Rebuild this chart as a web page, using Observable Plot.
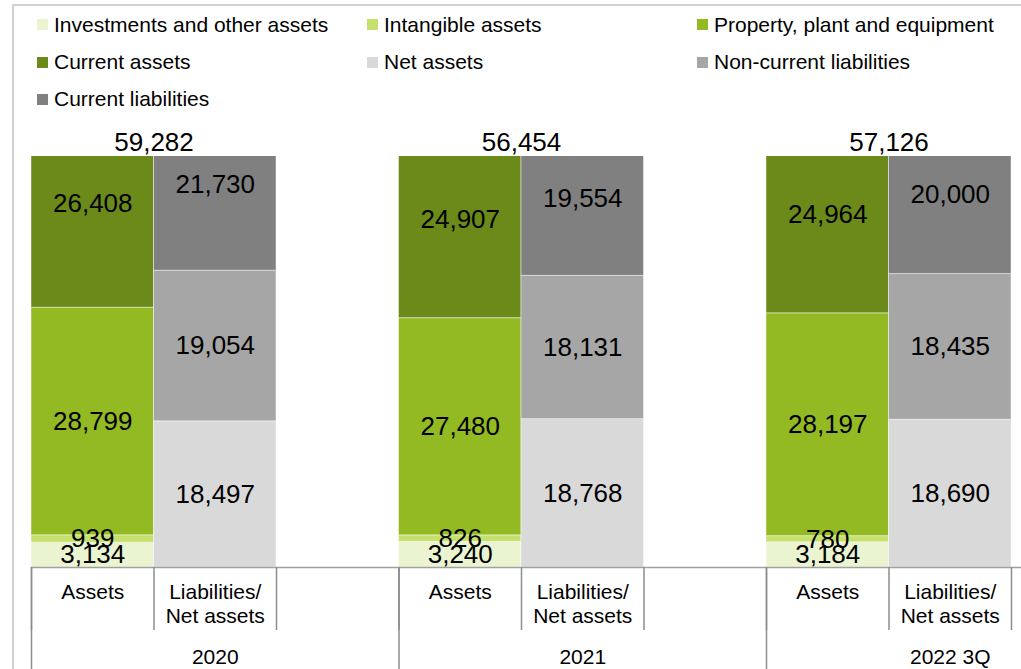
<!DOCTYPE html>
<html>
<head>
<meta charset="utf-8">
<script src="https://cdn.jsdelivr.net/npm/d3@7"></script>
<script src="https://cdn.jsdelivr.net/npm/@observablehq/plot@0.6"></script>
<style>
  html, body { margin: 0; padding: 0; background: #fff; }
  #wrap { position: relative; width: 1021px; height: 669px; overflow: hidden; font-family: "Liberation Sans", Arial, sans-serif; }
  #legend { position: relative; width: 1021px; height: 120px; }
  .item { position: absolute; display: flex; align-items: center; height: 24px; font-size: 21px; color: #000; white-space: nowrap; }
  .sw { width: 11px; height: 11px; margin-right: 6px; flex: none; }
  .bt { position: absolute; left: 13px; top: 4px; right: 0; height: 2px; background: #d2d2d2; }
  .bl { position: absolute; left: 12px; top: 4px; bottom: 0; width: 2px; background: #d2d2d2; }
  svg { display: block; }
</style>
</head>
<body>
<div id="wrap">
  <div id="legend"></div>
  <div id="chart"></div>
  <div class="bt"></div>
  <div class="bl"></div>
</div>
<script>
// ---- data ----
const years = ["2020", "2021", "2022 3Q"];
const barLabels = ["Assets", "Liabilities/\nNet assets"];
const categories = [
  "Investments and other assets", "Intangible assets", "Property, plant and equipment",
  "Current assets", "Net assets", "Non-current liabilities", "Current liabilities"
];
const colors = ["#eaf4d1", "#c6e06d", "#93b923", "#6b8a1a", "#d9d9d9", "#a6a6a6", "#808080"];
const investments = [3134, 3240, 3184];
const intangible = [939, 826, 780];
const ppe = [28799, 27480, 28197];
const currentAssets = [26408, 24907, 24964];
const netAssets = [18497, 18768, 18690];
const nonCurrentLiab = [19054, 18131, 18435];
const currentLiab = [21730, 19554, 20000];
const totals = [59282, 56454, 57126];
const legendOrder = [
  "Investments and other assets", "Intangible assets", "Property, plant and equipment",
  "Current assets", "Net assets", "Non-current liabilities", "Current liabilities"
];

// ---- table ----
const series = [investments, intangible, ppe, currentAssets, netAssets, nonCurrentLiab, currentLiab];
const rows = [];
years.forEach((y, i) => {
  series.forEach((s, k) => {
    const side = k < 4 ? 0 : 1;
    rows.push({year: y, slot: 3 * i + side, category: categories[k], value: s[i]});
  });
});
const slots = [];
years.forEach((y, i) => { slots.push({slot: 3 * i, label: barLabels[0]}, {slot: 3 * i + 1, label: barLabels[1]}); });
const totalRows = years.map((y, i) => ({year: y, pos: 3 * i + 1, total: totals[i]}));
const groupRows = years.map((y, i) => ({year: y, pos: 3 * i + 1.5}));
const fmt = d3.format(",");

// ---- legend ----
const legend = document.getElementById("legend");
const colX = [37, 367, 697];
const rowY = [24.5, 62, 99];
legendOrder.forEach((c, j) => {
  const el = document.createElement("div");
  el.className = "item";
  el.style.left = colX[j % 3] + "px";
  el.style.top = (rowY[Math.floor(j / 3)] - 12) + "px";
  const sw = document.createElement("span");
  sw.className = "sw";
  sw.style.background = colors[categories.indexOf(c)];
  el.appendChild(sw);
  el.appendChild(document.createTextNode(c));
  legend.appendChild(el);
});

// ---- chart ----
const slotW = 122.5;
const chart = Plot.plot({
  width: 1021,
  height: 549,
  marginTop: 36,
  marginBottom: 102,
  marginLeft: 31,
  marginRight: 0,
  style: {fontFamily: "'Liberation Sans', Arial, sans-serif", color: "#000", background: "transparent"},
  x: {type: "linear", domain: [0, 9], range: [31, 31 + 9 * slotW], axis: null},
  y: {domain: [0, 52000], axis: null},
  color: {domain: categories, range: colors},
  marks: [
    Plot.rectY(rows, Plot.stackY({
      x1: "slot", x2: d => d.slot + 1, y: "value", fill: "category",
      stroke: "white", strokeOpacity: 0.45, strokeWidth: 1, clip: true
    })),
    Plot.text(rows, Plot.stackY({
      x: d => d.slot + 0.5, y: "value", text: d => fmt(d.value),
      fontSize: 26, fill: "#000"
    })),
    Plot.text(totalRows, {x: "pos", text: d => fmt(d.total), frameAnchor: "top", lineAnchor: "middle", dy: -13.5, fontSize: 26, fill: "#000"}),
    Plot.ruleY([0], {stroke: "#a0a0a0", strokeWidth: 1.5}),
    Plot.axisX({ticks: d3.range(0, 9), tickSize: 63, tickFormat: () => "", stroke: "#8c8c8c", strokeWidth: 1.5}),
    Plot.axisX({ticks: [0, 3, 6], tickSize: 102, tickFormat: () => "", stroke: "#8c8c8c", strokeWidth: 1.5}),
    Plot.text(slots, {x: d => d.slot + 0.5, text: "label", frameAnchor: "bottom", lineAnchor: "top", dy: 14, fontSize: 21, lineHeight: 1.15, fill: "#000"}),
    Plot.text(groupRows, {x: "pos", text: "year", frameAnchor: "bottom", lineAnchor: "middle", dy: 90, fontSize: 21, fill: "#000"})
  ]
});
document.getElementById("chart").appendChild(chart);
</script>
</body>
</html>
